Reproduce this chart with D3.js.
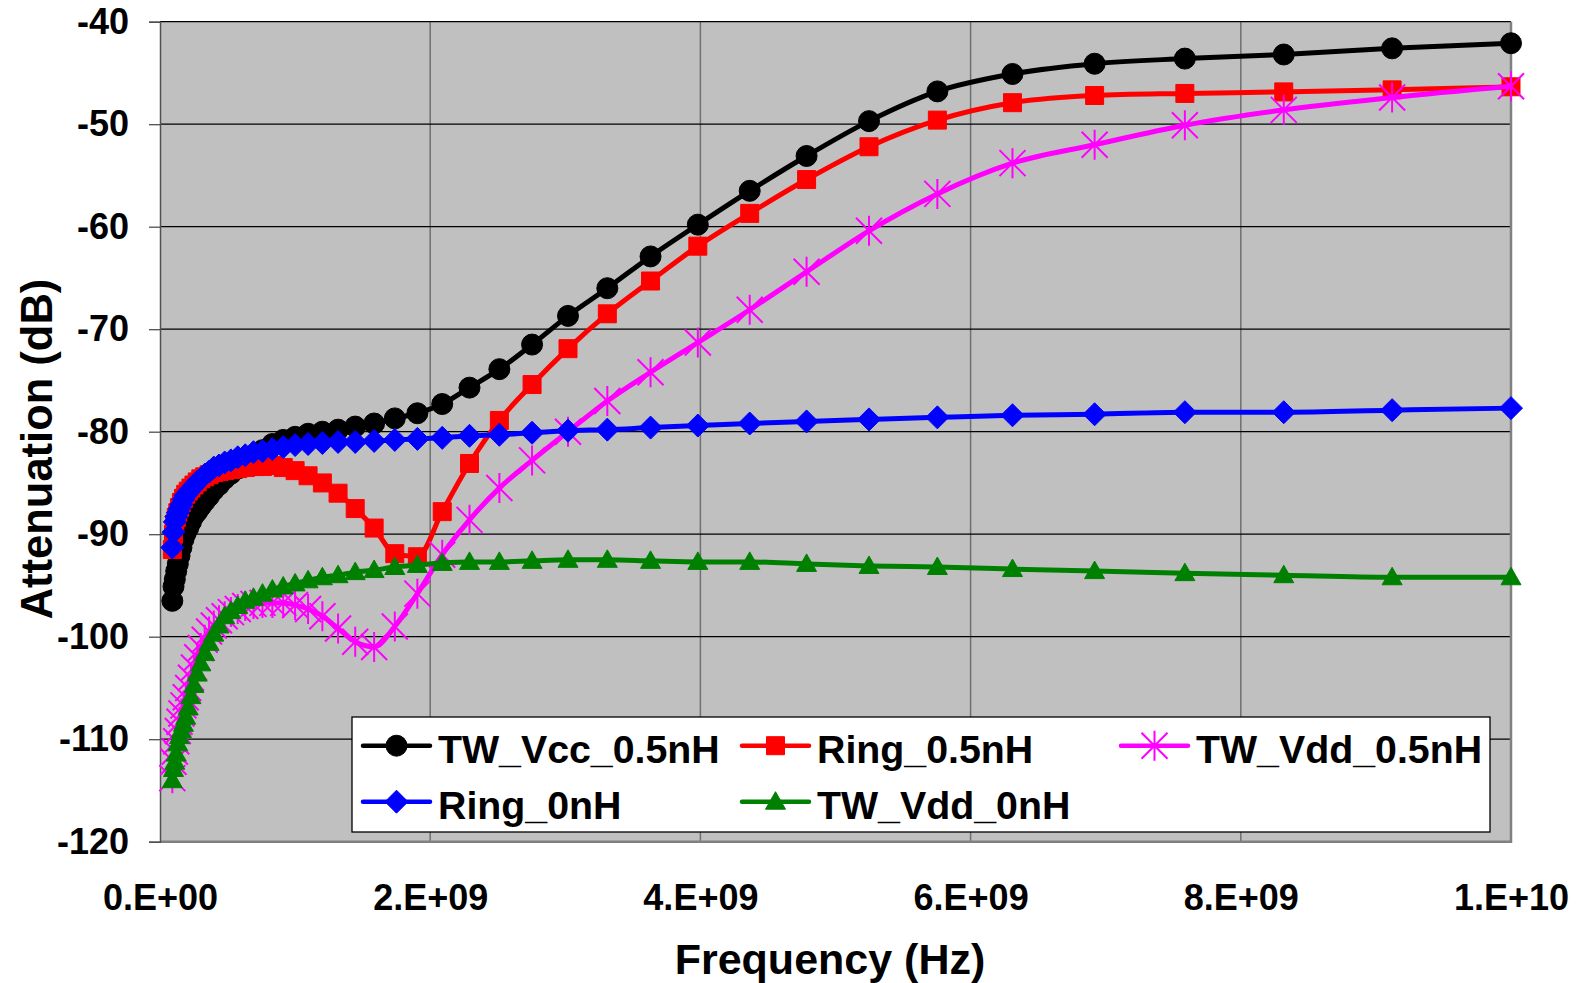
<!DOCTYPE html>
<html><head><meta charset="utf-8">
<script src="https://cdn.jsdelivr.net/npm/d3@7"></script>
<style>
body{margin:0;background:#fff;}
text{font-family:"Liberation Sans",Arial,Helvetica,sans-serif;font-weight:bold;fill:#000;}
</style>
</head><body>
<svg id="chart" width="1583" height="983"></svg>
<script>
// ---------------- data ----------------
const frequencies = [
  9.12e7, 1.0e8, 1.096e8, 1.202e8, 1.318e8, 1.445e8, 1.585e8, 1.738e8, 1.905e8, 2.089e8,
  2.291e8, 2.512e8, 2.754e8, 3.020e8, 3.311e8, 3.631e8, 3.981e8, 4.365e8, 4.786e8, 5.248e8,
  5.754e8, 6.310e8, 6.918e8, 7.586e8, 8.318e8, 9.120e8, 1.0e9, 1.096e9, 1.202e9, 1.318e9,
  1.445e9, 1.585e9, 1.738e9, 1.905e9, 2.089e9, 2.291e9, 2.512e9, 2.754e9, 3.020e9, 3.311e9,
  3.631e9, 3.981e9, 4.365e9, 4.786e9, 5.248e9, 5.754e9, 6.310e9, 6.918e9, 7.586e9, 8.318e9,
  9.120e9, 1.0e10
];
const twVcc05 = [
  -96.5, -95.1, -94.4, -93.6, -92.9, -92.1, -91.3, -90.5, -89.9, -89.4,
  -88.8, -88.2, -87.8, -87.3, -86.8, -86.3, -85.7, -85.2, -84.6, -84.1,
  -83.6, -83.0, -82.4, -81.8, -81.2, -80.8, -80.5, -80.2, -80.0, -79.8,
  -79.5, -79.2, -78.7, -78.2, -77.3, -75.7, -73.9, -71.5, -68.7, -66.0,
  -62.9, -59.8, -56.5, -53.1, -49.7, -46.8, -45.1, -44.1, -43.6, -43.2,
  -42.6, -42.1
];
const ring05 = [
  -91.5, -90.0, -89.0, -88.4, -87.9, -87.4, -86.9, -86.5, -86.1, -85.8,
  -85.5, -85.2, -84.9, -84.6, -84.4, -84.2, -84.0, -83.9, -83.8, -83.7,
  -83.6, -83.5, -83.4, -83.4, -83.3, -83.5, -83.8, -84.3, -85.0, -86.0,
  -87.5, -89.4, -91.9, -92.2, -87.8, -83.1, -78.9, -75.4, -71.9, -68.5,
  -65.3, -61.9, -58.7, -55.4, -52.2, -49.6, -47.9, -47.2, -47.0, -46.85,
  -46.65, -46.35
];
const twVdd05 = [
  -113.8, -112.2, -111.2, -110.2, -109.2, -108.3, -107.5, -106.7, -105.9, -105.0,
  -104.0, -103.0, -102.0, -101.1, -100.3, -99.5, -98.9, -98.4, -98.0, -97.6,
  -97.3, -97.0, -96.8, -96.7, -96.7, -96.7, -96.9, -97.3, -98.0, -99.2,
  -100.5, -101.0, -99.0, -95.8, -92.0, -88.6, -85.5, -82.8, -80.0, -77.0,
  -74.2, -71.3, -68.1, -64.4, -60.4, -56.8, -53.8, -52.0, -50.1, -48.6,
  -47.4, -46.3
];
const ring0 = [
  -91.3, -89.8, -88.8, -88.3, -87.9, -87.5, -87.1, -86.6, -86.2, -85.9,
  -85.6, -85.3, -84.9, -84.6, -84.2, -83.9, -83.5, -83.3, -83.0, -82.8,
  -82.5, -82.3, -82.0, -81.9, -81.7, -81.5, -81.3, -81.2, -81.1, -81.0,
  -81.0, -80.9, -80.8, -80.7, -80.6, -80.4, -80.3, -80.1, -79.9, -79.8,
  -79.6, -79.4, -79.2, -79.0, -78.8, -78.6, -78.4, -78.3, -78.1, -78.1,
  -77.9, -77.7
];
const twVdd0 = [
  -114.0, -112.9, -112.2, -111.4, -110.4, -109.7, -109.1, -108.5, -107.8, -106.9,
  -105.8, -104.7, -103.6, -102.6, -101.6, -100.6, -99.7, -98.9, -98.0, -97.5,
  -97.0, -96.5, -96.2, -95.8, -95.4, -95.1, -94.8, -94.5, -94.2, -94.0,
  -93.7, -93.5, -93.2, -93.0, -92.8, -92.7, -92.7, -92.6, -92.5, -92.5,
  -92.6, -92.7, -92.7, -92.9, -93.1, -93.2, -93.4, -93.6, -93.8, -94.0,
  -94.2, -94.2
];
const seriesNames = ["TW_Vcc_0.5nH", "Ring_0.5nH", "TW_Vdd_0.5nH", "Ring_0nH", "TW_Vdd_0nH"];
const seriesValues = [twVcc05, ring05, twVdd05, ring0, twVdd0];
const xTicks = [0, 2e9, 4e9, 6e9, 8e9, 1e10];
const xTickLabels = ["0.E+00", "2.E+09", "4.E+09", "6.E+09", "8.E+09", "1.E+10"];
const yTicks = [-120, -110, -100, -90, -80, -70, -60, -50, -40];
const xTitle = "Frequency (Hz)";
const yTitle = "Attenuation (dB)";

// ---------------- styles ----------------
const styles = [
  {color: "#000000", marker: "circle"},
  {color: "#FF0000", marker: "square"},
  {color: "#FF00FF", marker: "star"},
  {color: "#0000FF", marker: "diamond"},
  {color: "#008000", marker: "triangle"}
];
const drawOrder = [0, 1, 2, 3, 4];

const svg = d3.select("#chart");
const L = 160, R = 1511, T = 21.7, B = 841.7;
const x = d3.scaleLinear().domain([0, 1e10]).range([L, R]);
const y = d3.scaleLinear().domain([-120, -40]).range([B, T]);

function markerPath(type) {
  switch (type) {
    case "circle": return "M-10.5,0A10.5,10.5 0 1,0 10.5,0A10.5,10.5 0 1,0 -10.5,0Z";
    case "square": return "M-9,-9H9V9H-9Z";
    case "diamond": return "M0,-11.5L11.5,0L0,11.5L-11.5,0Z";
    case "triangle": return "M0,-10L10,7.5L-10,7.5Z";
    case "star": return "M-13,-13L13,13M-13,13L13,-13M0,-15V15";
  }
}
function drawMarker(g, type, color) {
  const p = g.append("path").attr("d", markerPath(type));
  if (type === "star") p.attr("fill", "none").attr("stroke", color).attr("stroke-width", 2);
  else p.attr("fill", color).attr("stroke", color).attr("stroke-width", 1);
}

// plot area
svg.append("rect").attr("x", L).attr("y", T).attr("width", R - L).attr("height", B - T)
  .attr("fill", "#C0C0C0");

// vertical gridlines
svg.append("g").selectAll("line").data(xTicks.slice(1, -1)).join("line")
  .attr("x1", d => x(d)).attr("x2", d => x(d)).attr("y1", T).attr("y2", B)
  .attr("stroke", "#707070").attr("stroke-width", 1.5);
// horizontal gridlines
svg.append("g").selectAll("line").data(yTicks.slice(1)).join("line")
  .attr("x1", L).attr("x2", R).attr("y1", d => y(d)).attr("y2", d => y(d))
  .attr("stroke", "#000").attr("stroke-width", 1.3);

// border right/bottom
svg.append("path").attr("d", `M${R},${T}V${B}H${L}`).attr("fill", "none")
  .attr("stroke", "#808080").attr("stroke-width", 2.5);

// y axis
const yAxis = d3.axisLeft(y).tickValues(yTicks).tickSize(11).tickPadding(20)
  .tickFormat(d => String(d));
const gy = svg.append("g").attr("transform", `translate(${L},0)`).call(yAxis);
gy.select(".domain").attr("stroke", "#505050").attr("stroke-width", 1.5);
gy.selectAll(".tick line").attr("stroke", "#505050").attr("stroke-width", 1.3);
gy.selectAll(".tick text").style("font-size", "36px").attr("fill", "#000")
  .style("font-family", "'Liberation Sans', Arial, sans-serif").style("font-weight", "bold");

// x axis
const xAxis = d3.axisBottom(x).tickValues(xTicks).tickSize(0).tickPadding(43)
  .tickFormat((d, i) => xTickLabels[i]);
const gx = svg.append("g").attr("transform", `translate(0,${B})`).call(xAxis);
gx.select(".domain").remove();
gx.selectAll(".tick text").style("font-size", "36px").attr("fill", "#000")
  .style("font-family", "'Liberation Sans', Arial, sans-serif").style("font-weight", "bold");

// titles
svg.append("text").attr("x", 830).attr("y", 974).attr("text-anchor", "middle")
  .style("font-size", "43px").text(xTitle);
svg.append("text").attr("transform", "translate(52,449) rotate(-90)").attr("text-anchor", "middle")
  .style("font-size", "43.5px").text(yTitle);

// series
const line = d3.line().x(d => x(d[0])).y(d => y(d[1])).curve(d3.curveMonotoneX);
drawOrder.forEach(si => {
  const pts = frequencies.map((f, i) => [f, seriesValues[si][i]]);
  const g = svg.append("g");
  g.append("path").attr("d", line(pts)).attr("fill", "none")
    .attr("stroke", styles[si].color).attr("stroke-width", 5).attr("stroke-linejoin", "round");
  pts.forEach(p => {
    const mg = g.append("g").attr("transform", `translate(${x(p[0])},${y(p[1])})`);
    drawMarker(mg, styles[si].marker, styles[si].color);
  });
});

// legend
const legX = 352, legY = 717, legW = 1138, legH = 115;
svg.append("rect").attr("x", legX).attr("y", legY).attr("width", legW).attr("height", legH)
  .attr("fill", "#fff").attr("stroke", "#000").attr("stroke-width", 1.3);
const colX = [363, 742, 1121];
const rowY = [745.7, 801.7];
seriesNames.forEach((name, i) => {
  const c = i % 3, r = Math.floor(i / 3);
  const lx = colX[c], ly = rowY[r];
  const g = svg.append("g");
  g.append("line").attr("x1", lx).attr("x2", lx + 67).attr("y1", ly).attr("y2", ly)
    .attr("stroke", styles[i].color).attr("stroke-width", 4.5).attr("stroke-linecap", "round");
  const mg = g.append("g").attr("transform", `translate(${lx + 33.5},${ly})`);
  drawMarker(mg, styles[i].marker, styles[i].color);
  g.append("text").attr("x", lx + 75).attr("y", ly + 17).style("font-size", "39.3px").text(name);
});
</script>
</body></html>
